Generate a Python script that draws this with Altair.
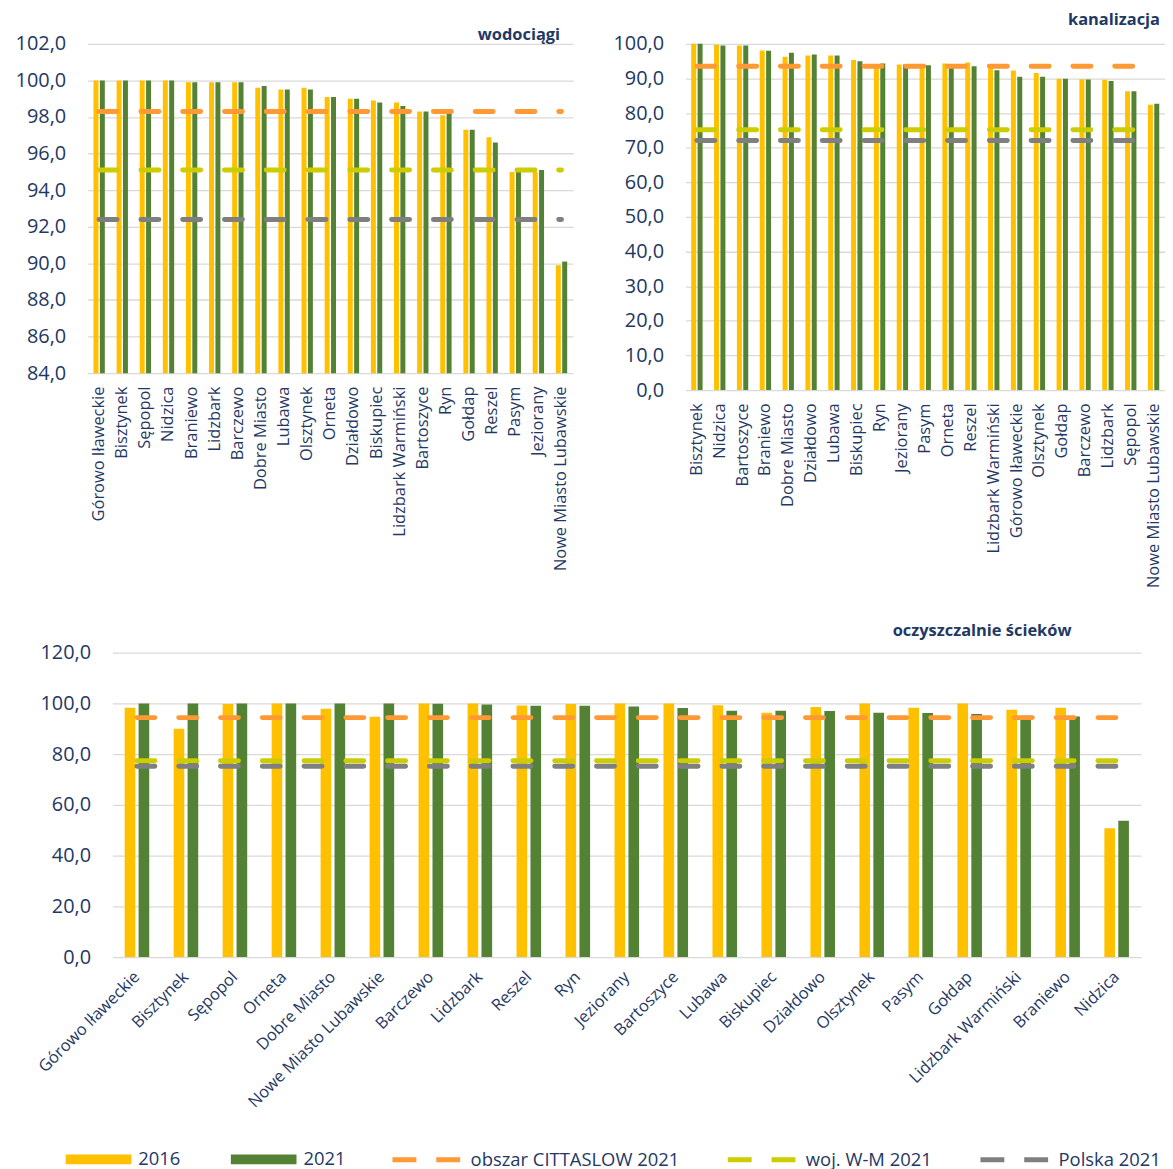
import altair as alt
import pandas as pd

YEARS = ["2016", "2021"]
BAR_COLORS = ["#FFC000", "#548235"]
REF_NAMES = ["obszar CITTASLOW 2021", "woj. W-M 2021", "Polska 2021"]
REF_COLORS = ["#FF9933", "#CCCC00", "#7F7F7F"]
NAVY = "#1F3864"
FONT = "Open Sans"

# --- wodociągi ---
wod_cats = ["Górowo Iławeckie", "Bisztynek", "Sępopol", "Nidzica", "Braniewo", "Lidzbark",
            "Barczewo", "Dobre Miasto", "Lubawa", "Olsztynek", "Orneta", "Działdowo",
            "Biskupiec", "Lidzbark Warmiński", "Bartoszyce", "Ryn", "Gołdap", "Reszel",
            "Pasym", "Jeziorany", "Nowe Miasto Lubawskie"]
wod_2016 = [100.0, 100.0, 100.0, 100.0, 99.9, 99.9, 99.9, 99.6, 99.5, 99.6, 99.1, 99.0,
            98.9, 98.8, 98.3, 98.1, 97.3, 96.9, 95.0, 95.0, 89.9]
wod_2021 = [100.0, 100.0, 100.0, 100.0, 99.9, 99.9, 99.9, 99.7, 99.5, 99.5, 99.1, 99.0,
            98.8, 98.6, 98.3, 98.2, 97.3, 96.6, 95.1, 95.1, 90.1]
wod_refs = [98.3, 95.1, 92.4]
wod_ticks = [84, 86, 88, 90, 92, 94, 96, 98, 100, 102]

# --- kanalizacja ---
kan_cats = ["Bisztynek", "Nidzica", "Bartoszyce", "Braniewo", "Dobre Miasto", "Działdowo",
            "Lubawa", "Biskupiec", "Ryn", "Jeziorany", "Pasym", "Orneta", "Reszel",
            "Lidzbark Warmiński", "Górowo Iławeckie", "Olsztynek", "Gołdap", "Barczewo",
            "Lidzbark", "Sępopol", "Nowe Miasto Lubawskie"]
kan_2016 = [100.0, 99.7, 99.5, 98.1, 96.3, 96.6, 96.6, 95.3, 94.2, 94.0, 93.8, 94.3, 94.6,
            93.5, 92.3, 91.6, 89.9, 89.8, 89.6, 86.3, 82.4]
kan_2021 = [100.0, 99.5, 99.5, 98.0, 97.4, 96.9, 96.6, 95.0, 94.3, 94.0, 93.8, 93.6, 93.5,
            92.4, 90.5, 90.5, 89.9, 89.7, 89.3, 86.3, 82.7]
kan_refs = [93.5, 75.2, 72.1]
kan_ticks = [0, 10, 20, 30, 40, 50, 60, 70, 80, 90, 100]

# --- oczyszczalnie ścieków ---
oc_cats = ["Górowo Iławeckie", "Bisztynek", "Sępopol", "Orneta", "Dobre Miasto",
           "Nowe Miasto Lubawskie", "Barczewo", "Lidzbark", "Reszel", "Ryn", "Jeziorany",
           "Bartoszyce", "Lubawa", "Biskupiec", "Działdowo", "Olsztynek", "Pasym", "Gołdap",
           "Lidzbark Warmiński", "Braniewo", "Nidzica"]
oc_2016 = [98.3, 90.0, 99.8, 100.0, 97.9, 94.7, 100.0, 100.0, 99.2, 99.8, 100.0, 100.0,
           99.3, 96.3, 98.6, 100.0, 98.3, 100.0, 97.5, 98.3, 50.8]
oc_2021 = [100.0, 100.0, 100.0, 100.0, 100.0, 100.0, 99.9, 99.6, 99.1, 99.1, 98.8, 98.2,
           97.1, 97.1, 97.0, 96.3, 96.2, 95.8, 95.1, 94.8, 53.7]
oc_refs = [94.4, 77.4, 75.2]
oc_ticks = [0, 20, 40, 60, 80, 100, 120]

LABEL_EXPR = "replace(format(datum.value, '.1f'), '.', ',')"

fill_scale = alt.Scale(domain=YEARS, range=BAR_COLORS)
stroke_scale = alt.Scale(domain=REF_NAMES, range=REF_COLORS)

fill_legend = alt.Legend(
    orient="none", legendX=-22, legendY=1088, direction="horizontal", title=None,
    symbolType="M-1,-0.15H1V0.15H-1Z", symbolSize=4356, symbolStrokeWidth=0,
    symbolOpacity=1, labelFontSize=18.5, labelFont=FONT, labelColor=NAVY,
    labelOffset=7, columnPadding=50, padding=0, labelLimit=0,
)
stroke_legend = alt.Legend(
    orient="none", legendX=304, legendY=1085, direction="horizontal", title=None,
    symbolType="stroke", symbolSize=4624, symbolStrokeWidth=5, symbolDash=[24, 20],
    labelFontSize=18.5, labelFont=FONT, labelColor=NAVY, labelOffset=8,
    columnPadding=38, padding=0, labelLimit=0,
)


def panel(cats, v16, v21, refs, ticks, width, height, title, tx, ty,
          bar_w, bar_off, angle, lab_pad, lab_off=0):
    n = len(cats)
    bars = pd.DataFrame({
        "kat": cats * 2,
        "rok": ["2016"] * n + ["2021"] * n,
        "v": list(v16) + list(v21),
    })
    refdf = pd.DataFrame({
        "kat": cats * 3,
        "seria": [s for s in REF_NAMES for _ in range(n)],
        "v": [r for r in refs for _ in range(n)],
    })
    xaxis = alt.Axis(labelAngle=angle, labelAlign="right", labelBaseline="middle",
                     labelPadding=lab_pad, labelOffset=lab_off, labelFontSize=16.5,
                     labelFont=FONT, labelColor=NAVY, domain=False, ticks=False,
                     grid=False, title=None, labelLimit=0)
    xenc = alt.X("kat:N", sort=cats, scale=alt.Scale(paddingInner=0, paddingOuter=0),
                 axis=xaxis)
    yscale = alt.Scale(domain=[ticks[0], ticks[-1]], nice=False, zero=False)
    yaxis = alt.Axis(values=ticks, labelExpr=LABEL_EXPR, grid=True, gridColor="#D9D9D9",
                     gridWidth=1.3, domain=False, ticks=False, labelPadding=22,
                     labelFontSize=20, labelFont=FONT, labelColor=NAVY, title=None)
    base = alt.Chart(bars)
    layers = []
    for yr, off in zip(YEARS, [-bar_off, bar_off]):
        layers.append(
            base.transform_filter(alt.datum.rok == yr).mark_bar(
                width=bar_w, xOffset=off).encode(
                x=xenc, y=alt.Y("v:Q", scale=yscale, axis=yaxis),
                y2=alt.datum(ticks[0]),
                fill=alt.Fill("rok:N", scale=fill_scale, legend=fill_legend)))
    layers.append(
        alt.Chart(refdf).mark_line(strokeWidth=5, strokeDash=[18, 24],
                                   strokeCap="round").encode(
            x=xenc, y=alt.Y("v:Q", scale=yscale, axis=yaxis),
            stroke=alt.Stroke("seria:N", scale=stroke_scale, legend=stroke_legend,
                              sort=REF_NAMES)))
    tdf = pd.DataFrame({"t": [title]})
    layers.append(
        alt.Chart(tdf).mark_text(
            align="right", baseline="middle", fontSize=16.5, fontWeight="bold", font=FONT,
            color=NAVY).encode(text="t:N", x=alt.value(tx), y=alt.value(ty)))
    return alt.layer(*layers).properties(width=width, height=height)


wod = panel(wod_cats, wod_2016, wod_2021, wod_refs, wod_ticks, 488, 331,
            "wodociągi", 475, -9, 5, 3.2, -90, 13)
kan = panel(kan_cats, kan_2016, kan_2021, kan_refs, kan_ticks, 482, 348,
            "kanalizacja", 477, -24, 5, 3.2, -90, 13)
oc = panel(oc_cats, oc_2016, oc_2021, oc_refs, oc_ticks, 1034, 306,
           "oczyszczalnie ścieków", 964, -22, 10.7, 7, -45, 17, 0)

spacer = alt.Chart(pd.DataFrame({"a": [0]})).mark_rect(opacity=0).encode(
    x=alt.value(0), x2=alt.value(1), y=alt.value(0), y2=alt.value(1)
).properties(width=1, height=1)

top = alt.hconcat(wod, kan, spacing=113, bounds="flush")
bottom = alt.hconcat(spacer, oc, spacing=24, bounds="flush")

chart = alt.vconcat(top, bottom, spacing=35).properties(
    padding={"left": 7, "top": 1, "right": 0, "bottom": 0},
    background="white",
).configure_view(stroke=None)

chart.save("out.html", embed_options={"renderer": "svg", "actions": False})
